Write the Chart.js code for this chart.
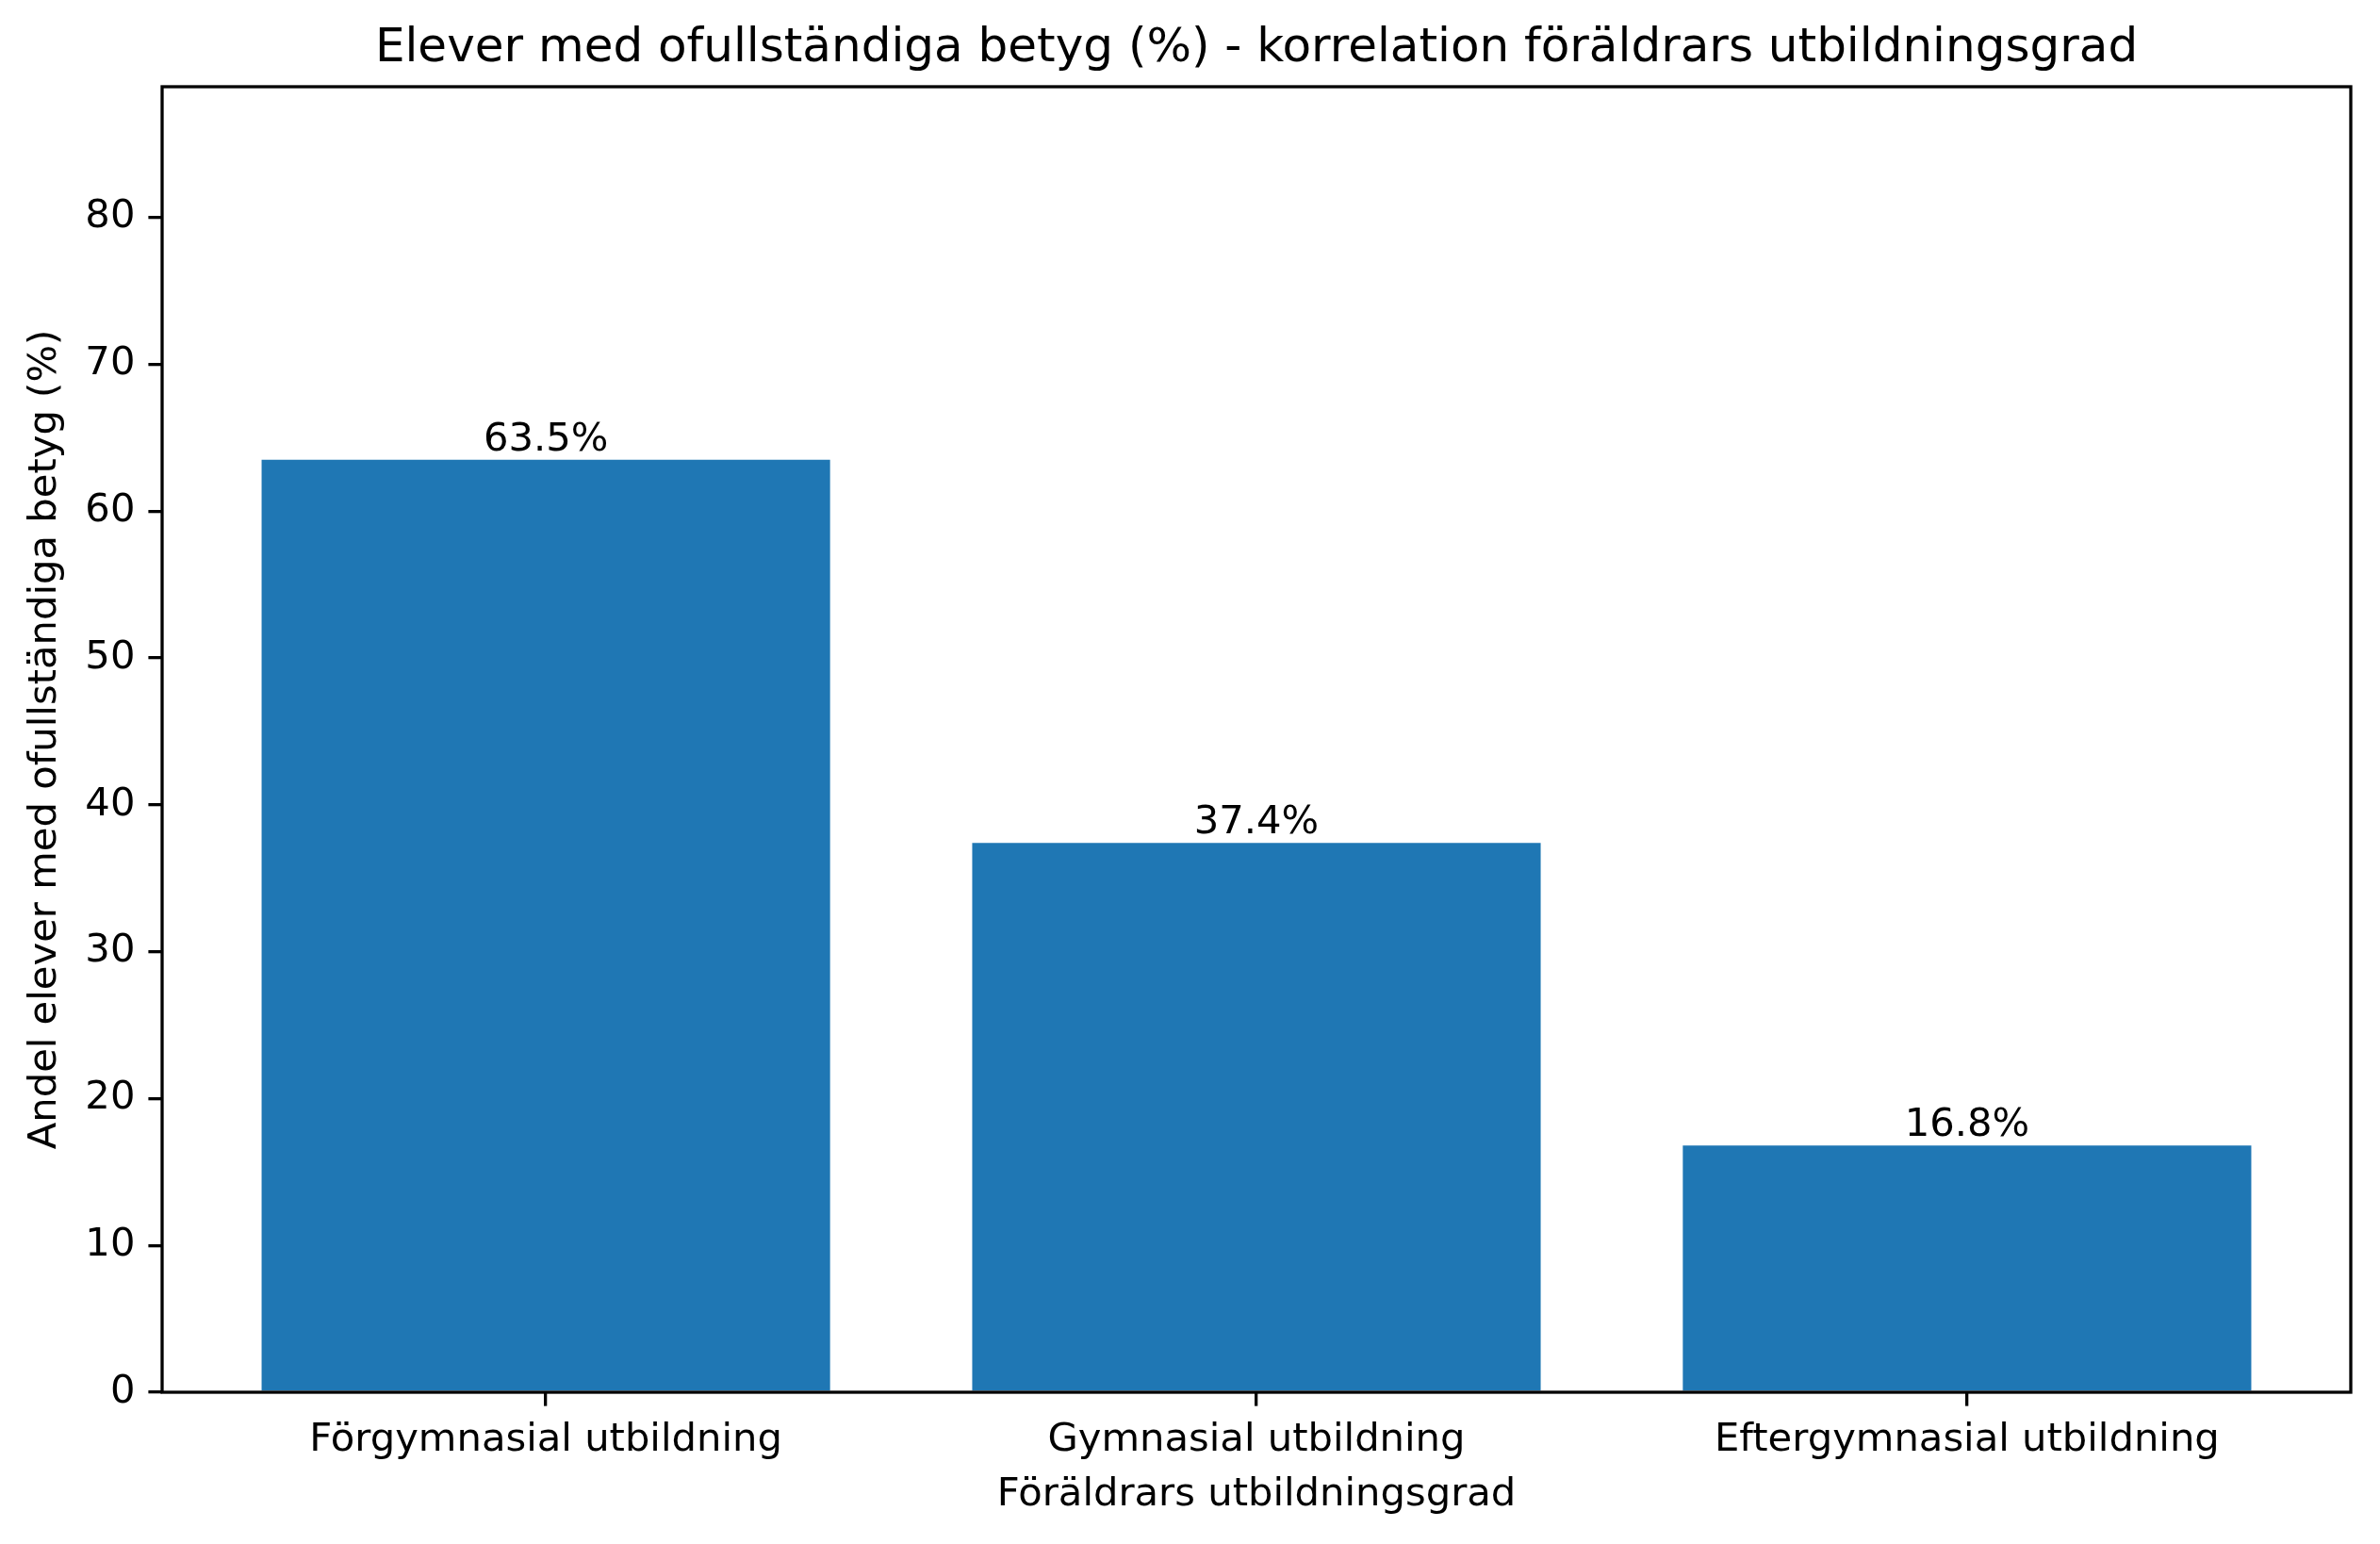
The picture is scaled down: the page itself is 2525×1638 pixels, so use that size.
<!DOCTYPE html>
<html>
<head>
<meta charset="utf-8">
<script src="https://cdn.jsdelivr.net/npm/chart.js@4/dist/chart.umd.min.js"></script>
<style>
  html, body { margin: 0; padding: 0; background: #fff; }
  canvas { display: block; }
</style>
</head>
<body>
<canvas id="myChart" width="2525" height="1638"></canvas>
<script>
// Data
const categories = ['Förgymnasial utbildning', 'Gymnasial utbildning', 'Eftergymnasial utbildning'];
const values = [63.5, 37.4, 16.8];
const yTicks = [0, 10, 20, 30, 40, 50, 60, 70, 80];

const yMax = 88.9;
const font = 'DejaVu Sans';
const fs = 41.7;      // 10pt
const tickLen = 14.6; // 3.5pt
const lw = 3.3;       // 0.8pt

// ramme rundt plottet + verdier over stolpene
const framePlugin = {
    id: 'frame',
    afterDraw(chart) {
        const ctx = chart.ctx;
        const a = chart.chartArea;
        ctx.save();
        ctx.strokeStyle = '#000';
        ctx.lineWidth = lw;
        ctx.strokeRect(a.left, a.top, a.right - a.left, a.bottom - a.top);

        const xs = chart.scales.x;
        const ys = chart.scales.y;
        ctx.fillStyle = '#000';
        ctx.font = fs + 'px "' + font + '"';
        ctx.textAlign = 'center';
        ctx.textBaseline = 'alphabetic';
        values.forEach(function(v, i) {
            ctx.fillText(v.toFixed(1) + '%', xs.getPixelForValue(i), ys.getPixelForValue(v) - 10);
        });
        ctx.restore();
    }
};

const ctx = document.getElementById('myChart').getContext('2d');

new Chart(ctx, {
    type: 'bar',
    data: {
        datasets: [{
            data: values.map(function(v, i) { return { x: i, y: v }; }),
            backgroundColor: '#1f77b4',
            borderWidth: 0,
            barPercentage: 0.8,
            categoryPercentage: 1.0
        }]
    },
    options: {
        responsive: false,
        devicePixelRatio: 1,
        animation: false,
        layout: { padding: { left: 0, right: 31, top: 0, bottom: 0 } },
        plugins: {
            legend: { display: false },
            tooltip: { enabled: false },
            title: {
                display: true,
                fullSize: false,
                text: 'Elever med ofullständiga betyg (%) - korrelation föräldrars utbildningsgrad',
                color: '#000',
                font: { family: font, size: 50, weight: 'normal', lineHeight: 1.2 },
                padding: { top: 22, bottom: 10 }
            }
        },
        scales: {
            x: {
                type: 'linear',
                offset: false,
                min: -0.54,
                max: 2.54,
                afterBuildTicks: function(scale) {
                    scale.ticks = categories.map(function(c, i) { return { value: i }; });
                },
                afterFit: function(scale) { scale.height = 161; },
                ticks: {
                    color: '#000',
                    font: { family: font, size: fs },
                    padding: 12,
                    maxRotation: 0,
                    autoSkip: false,
                    callback: function(value) { return categories[value]; }
                },
                grid: { display: true, offset: false, drawOnChartArea: false, drawTicks: true, tickLength: tickLen, color: '#000', lineWidth: lw },
                border: { display: false },
                title: {
                    display: true,
                    text: 'Föräldrars utbildningsgrad',
                    color: '#000',
                    font: { family: font, size: fs, lineHeight: 1.2 },
                    padding: { top: 0, bottom: 27 }
                }
            },
            y: {
                min: 0,
                max: yMax,
                afterBuildTicks: function(scale) {
                    scale.ticks = yTicks.map(function(t) { return { value: t }; });
                },
                afterFit: function(scale) { scale.width = 172; },
                ticks: {
                    color: '#000',
                    font: { family: font, size: fs },
                    padding: 14
                },
                grid: { display: true, drawOnChartArea: false, drawTicks: true, tickLength: tickLen, color: '#000', lineWidth: lw },
                border: { display: false },
                title: {
                    display: true,
                    text: 'Andel elever med ofullständiga betyg (%)',
                    color: '#000',
                    font: { family: font, size: fs, lineHeight: 1.2 },
                    padding: { top: 23, bottom: 0 }
                }
            }
        }
    },
    plugins: [framePlugin]
});
</script>
</body>
</html>
